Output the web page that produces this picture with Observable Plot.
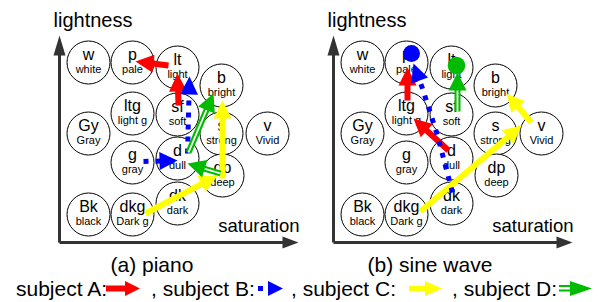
<!DOCTYPE html>
<html><head><meta charset="utf-8">
<script src="https://cdn.jsdelivr.net/npm/d3@7"></script>
<script src="https://cdn.jsdelivr.net/npm/@observablehq/plot@0.6"></script>
<style>
body{margin:0;background:#fff;font-family:"Liberation Sans",Arial,sans-serif;}
#wrap{position:relative;width:606px;height:302px;overflow:hidden;background:#fff;}
#chart{position:absolute;left:0;top:0;}
.cap{position:absolute;font-size:21px;line-height:24px;white-space:pre;color:#000;}
.icon{position:absolute;top:278px;}
</style></head><body><div id="wrap"><div id="chart"></div></div>
<script>
// ---- tone circles (PCCS tones): saturation offset, lightness height
const toneCodes = ["w","p","lt","b","Gy","ltg","sf","s","v","g","d","dp","Bk","dkg","dk"];
const toneNames = ["white","pale","light","bright","Gray","light g","soft","strong","Vivid","gray","dull","deep","black","Dark g","dark"];
const toneSat   = [0,44,89,133, 0,44,89,133,179, 44,89,134, 0,44,89];
const toneLight = [180,180,175,157, 109,129,128,109,109, 80,84,67, 28,28,39];

// ---- panels
const panels = ["a","b"];
const panelCaptions = ["(a) piano","(b) sine wave"];

// ---- subjects
const subjects = ["A","B","C","D"];
const subjectColors = ["#ff0000","#0000ff","#ffff00","#00bb00"];

// ---- arrows (paths in saturation / lightness units)
const arrowPanel   = ["a","a","a","a","a","a","a","a", "b","b","b","b","b","b","b"];
const arrowSubject = ["A","A","B","B","C","C","D","D", "A","A","B","C","C","D"];
const arrowPaths = [
  [[80,177],[47,181]],
  [[90,137],[89,169]],
  [[55,81],[89,82]],
  [[99,89],[101,166]],
  [[57,29],[129,67]],
  [[134,64],[134,142]],
  [[100,90],[125,149]],
  [[132,69],[99,79]],
  [[45,142],[45,175]],
  [[86,92],[51,124]],
  [[90,50],[75,107],[60,154],[51,179]],
  [[58,31],[159,117]],
  [[169,120],[144,149]],
  [[95,131],[95,170]]
];
// start markers (sine wave panel)
const startPanel   = ["b","b"];
const startSubject = ["B","D"];
const startSat     = [49,94];
const startLight   = [189,177];

// ---- build tables
const tones = toneCodes.map((c,i)=>({code:c, name:toneNames[i], s:toneSat[i], l:toneLight[i]}));
const colorOf = s => subjectColors[subjects.indexOf(s)];

const shaftPts = [], heads = [];
arrowPaths.forEach((p,i)=>{
  const n = p.length;
  const [x1,y1] = p[n-2], [x2,y2] = p[n-1];
  const dx = x2-x1, dy = y2-y1, L = Math.hypot(dx,dy);
  const ux = dx/L, uy = dy/L, cut = 13;
  p.forEach((q,j)=>{
    let [x,y] = q;
    if (j===n-1){ x -= ux*cut; y -= uy*cut; }
    shaftPts.push({id:i, panel:arrowPanel[i], subject:arrowSubject[i], s:x, l:y});
  });
  heads.push({panel:arrowPanel[i], subject:arrowSubject[i], s:x2, l:y2, rot:Math.atan2(dx,dy)*180/Math.PI});
});
const starts = startPanel.map((p,i)=>({panel:p, subject:startSubject[i], s:startSat[i], l:startLight[i]}));

// font choice for circle labels
function hasFont(name){
  const c = document.createElement("canvas").getContext("2d");
  c.font = "40px monospace"; const a = c.measureText("whiteWMil").width;
  c.font = `40px "${name}", monospace`; const b = c.measureText("whiteWMil").width;
  return Math.abs(a-b) > 0.5;
}
const narrow = hasFont("Liberation Sans Narrow");
const lblFont = narrow ? "Liberation Sans Narrow" : "Liberation Sans";
const bigSize = narrow ? 19 : 16;
const smallSize = narrow ? 12.5 : 11;

const axisColor = "#333";
const marks = [
  // axes
  Plot.link([0], {x1:-29, y1:0, x2:198, y2:0, stroke:axisColor, strokeWidth:3}),
  Plot.link([0], {x1:-29, y1:0, x2:-29, y2:190, stroke:axisColor, strokeWidth:3}),
  Plot.vector([0], {x:210, y:0, rotate:90, length:16, r:6, shape:"spike", anchor:"end", fill:axisColor, stroke:"none"}),
  Plot.vector([0], {x:-29, y:207, rotate:0, length:20, r:6, shape:"spike", anchor:"end", fill:axisColor, stroke:"none"}),
  // tone circles
  Plot.dot(tones, {x:"s", y:"l", r:21.5, fill:"white", stroke:"black", strokeWidth:1}),
  Plot.text(tones, {x:"s", y:"l", text:"code", lineAnchor:"bottom", dy:-3, fontSize:bigSize, fontFamily:lblFont, fill:"black"}),
  Plot.text(tones, {x:"s", y:"l", text:"name", lineAnchor:"bottom", dy:10, fontSize:smallSize, fontFamily:lblFont, fill:"black"}),
  // axis labels
  Plot.text(["lightness"], {x:-35, y:216, text:d=>d, textAnchor:"start", lineAnchor:"bottom", fontSize:20, fontFamily:"Liberation Sans", fill:"black"}),
  Plot.text(["saturation"], {x:211, y:11, text:d=>d, textAnchor:"end", lineAnchor:"bottom", fontSize:18.5, fontFamily:"Liberation Sans", fill:"black"})
];

const styleOf = {
  A: [{strokeWidth:6}],
  B: [{strokeWidth:5, strokeDasharray:"5,7"}],
  C: [{strokeWidth:6}],
  D: [{strokeWidth:6}, {strokeWidth:1.8, stroke:"white"}]
};
for (const subj of ["C","A","B","D"]) {
  const pts = shaftPts.filter(d=>d.subject===subj);
  for (const st of styleOf[subj]) {
    marks.push(Plot.line(pts, {x:"s", y:"l", z:"id", fx:"panel", stroke:colorOf(subj), strokeLinecap:"butt", strokeLinejoin:"round", ...st}));
  }
  marks.push(Plot.vector(heads.filter(d=>d.subject===subj), {x:"s", y:"l", fx:"panel", rotate:"rot", length:18, r:9, shape:"spike", anchor:"end", fill:colorOf(subj), stroke:"none"}));
}
for (const subj of ["B","D"]) {
  marks.push(Plot.dot(starts.filter(d=>d.subject===subj), {x:"s", y:"l", fx:"panel", r:subj==="B"?8.5:8.8, fill:colorOf(subj), stroke:"none"}));
}

const chart = Plot.plot({
  width:606, height:250,
  marginLeft:59, marginRight:29, marginTop:0, marginBottom:8,
  fx:{domain:panels, axis:null, paddingInner:0.1095, paddingOuter:0},
  x:{domain:[-29,215], axis:null},
  y:{domain:[0,242], axis:null},
  style:{background:"white", fontFamily:"Liberation Sans", overflow:"visible"},
  marks
});
document.getElementById("chart").appendChild(chart);

// ---- captions and legend
const wrap = document.getElementById("wrap");
function addText(txt, left, top, center){
  const el = document.createElement("div");
  el.className = "cap"; el.textContent = txt;
  el.style.top = top + "px";
  wrap.appendChild(el);
  el.style.left = (center ? left - el.offsetWidth/2 : left) + "px";
}
const captionCenters = [152, 430];
panelCaptions.forEach((t,i)=>addText(t, captionCenters[i], 253, true));

const legendLabels = ["subject A:", ", subject B:", ", subject C:", ", subject D:"];
const legendTextLeft = [16, 151, 291, 452];
const legendIconLeft = [106, 258, 409, 559];
legendLabels.forEach((t,i)=>addText(t, legendTextLeft[i], 277, false));

const ns = "http://www.w3.org/2000/svg";
subjects.forEach((s,i)=>{
  const svg = d3.create("svg").attr("width",36).attr("height",22).attr("class","icon")
    .style("left", legendIconLeft[i]+"px");
  const c = colorOf(s); const cy = 10.5;
  if (s==="A") { svg.append("rect").attr("x",0).attr("y",cy-3).attr("width",20).attr("height",6).attr("fill",c);
                 svg.append("path").attr("d",`M19,${cy-7.5}L34,${cy}L19,${cy+7.5}Z`).attr("fill",c); }
  if (s==="B") { svg.append("rect").attr("x",0).attr("y",cy-2.5).attr("width",5).attr("height",5).attr("fill",c);
                 svg.append("path").attr("d",`M10,${cy-7.5}L25,${cy}L10,${cy+7.5}Z`).attr("fill",c); }
  if (s==="C") { svg.append("rect").attr("x",0).attr("y",cy-2.5).attr("width",18).attr("height",5).attr("fill",c);
                 svg.append("path").attr("d",`M16,${cy-7.5}L33,${cy}L16,${cy+7.5}Z`).attr("fill",c); }
  if (s==="D") { svg.append("rect").attr("x",0).attr("y",cy-3.5).attr("width",14).attr("height",2).attr("fill",c);
                 svg.append("rect").attr("x",0).attr("y",cy+1).attr("width",14).attr("height",2).attr("fill",c);
                 svg.append("path").attr("d",`M11,${cy-7.5}L33,${cy}L11,${cy+7.5}Z`).attr("fill",c); }
  wrap.appendChild(svg.node());
});
</script></body></html>
